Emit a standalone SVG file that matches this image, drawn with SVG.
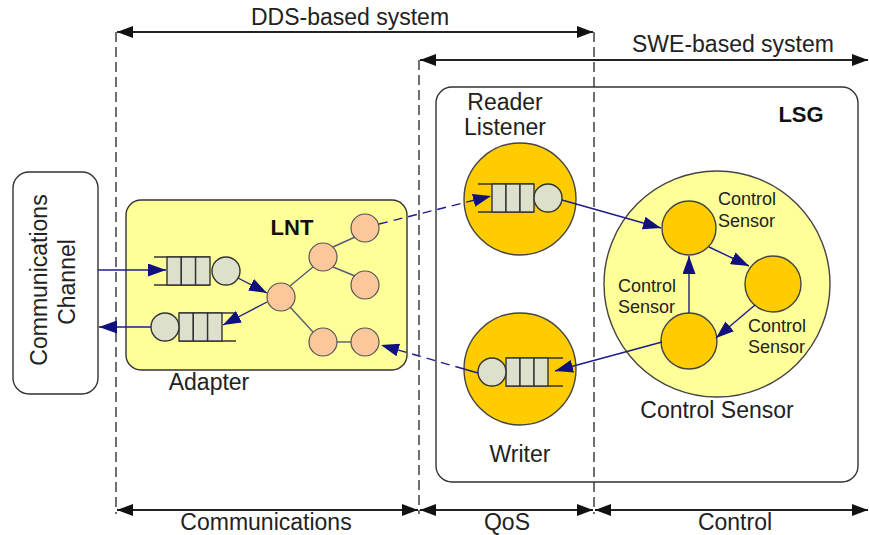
<svg xmlns="http://www.w3.org/2000/svg" width="869" height="535" viewBox="0 0 869 535">
<defs>
<style>
.t{font-family:"Liberation Sans",Arial,sans-serif;font-size:23px;fill:#222}
.s{font-family:"Liberation Sans",Arial,sans-serif;font-size:18px;fill:#222}
.b{font-family:"Liberation Sans",Arial,sans-serif;font-size:22px;font-weight:bold;fill:#111}
.dash{stroke:#333;stroke-width:1.4;stroke-dasharray:10 5;fill:none}
.dim{stroke:#222;stroke-width:1.8;fill:none}
.conn{stroke:#1c1c8c;stroke-width:1.4;fill:none}
.cd{stroke:#1c1c8c;stroke-width:1.4;fill:none;stroke-dasharray:9 6}
.ln{stroke:#555a77;stroke-width:1.4;fill:none}
.q{fill:#dde0cb;stroke:#333;stroke-width:1.4}
.rail{stroke:#333;stroke-width:1.6}
.node{fill:#fcc89b;stroke:#555;stroke-width:1.2}
.gold{fill:#ffcc00;stroke:#444;stroke-width:1.4}
.box{fill:#fff;stroke:#333;stroke-width:1.4}
</style>
<marker id="ab" viewBox="0 0 16 12" refX="16" refY="6" markerWidth="16" markerHeight="12" markerUnits="userSpaceOnUse" orient="auto-start-reverse"><path d="M0,0 L16,6 L0,12 z" fill="#111"/></marker>
<marker id="an" viewBox="0 0 18 13" refX="18" refY="6.5" markerWidth="18" markerHeight="13" markerUnits="userSpaceOnUse" orient="auto"><path d="M0,0 L18,6.5 L0,13 z" fill="#10107f"/></marker>
</defs>

<g id="dimensions">
<line class="dash" x1="116" y1="32" x2="116" y2="514"/>
<line class="dash" x1="419" y1="60" x2="419" y2="514"/>
<line class="dash" x1="594" y1="32" x2="594" y2="514"/>
<line class="dim" x1="117" y1="32" x2="593" y2="32" marker-start="url(#ab)" marker-end="url(#ab)"/>
<line class="dim" x1="420" y1="60" x2="868" y2="60" marker-start="url(#ab)" marker-end="url(#ab)"/>
<line class="dim" x1="117" y1="510" x2="418" y2="510" marker-start="url(#ab)" marker-end="url(#ab)"/>
<line class="dim" x1="420" y1="510" x2="593" y2="510" marker-start="url(#ab)" marker-end="url(#ab)"/>
<line class="dim" x1="595" y1="510" x2="868" y2="510" marker-start="url(#ab)" marker-end="url(#ab)"/>
<text class="t" x="350" y="25" text-anchor="middle">DDS-based system</text>
<text class="t" x="733" y="52" text-anchor="middle">SWE-based system</text>
<text class="t" x="266" y="530" text-anchor="middle">Communications</text>
<text class="t" x="507" y="530" text-anchor="middle">QoS</text>
<text class="t" x="735" y="530" text-anchor="middle">Control</text>
</g>

<g id="channel">
<rect class="box" x="13" y="172" width="85" height="222" rx="16"/>
<text class="t" transform="translate(47,280) rotate(-90)" text-anchor="middle">Communications</text>
<text class="t" transform="translate(75,282) rotate(-90)" text-anchor="middle">Channel</text>
</g>

<g id="lsg">
<rect x="436" y="87" width="422" height="395" rx="16" fill="none" stroke="#333" stroke-width="1.4"/>
<text class="b" x="801" y="122" text-anchor="middle">LSG</text>
</g>

<g id="adapter">
<rect x="126" y="200" width="281" height="170" rx="15" fill="#ffff99" stroke="#333" stroke-width="1.4"/>
<text class="b" x="292" y="235" text-anchor="middle">LNT</text>
<text class="t" x="209" y="390" text-anchor="middle">Adapter</text>
</g>

<g id="adapter-in-queue">
<line class="rail" x1="154" y1="257" x2="210" y2="257"/>
<line class="rail" x1="154" y1="285" x2="210" y2="285"/>
<rect class="q" x="167" y="257" width="14.3" height="28"/>
<rect class="q" x="181.3" y="257" width="14.3" height="28"/>
<rect class="q" x="195.6" y="257" width="14.4" height="28"/>
<circle class="q" cx="226" cy="271" r="14"/>
</g>

<g id="adapter-out-queue">
<line class="rail" x1="179" y1="313" x2="236" y2="313"/>
<line class="rail" x1="179" y1="341" x2="236" y2="341"/>
<rect class="q" x="179" y="313" width="14.3" height="28"/>
<rect class="q" x="193.3" y="313" width="14.3" height="28"/>
<rect class="q" x="207.6" y="313" width="14.4" height="28"/>
<circle class="q" cx="165" cy="327" r="14"/>
</g>

<g id="lnt-nodes">
<circle class="node" cx="281" cy="297" r="14"/>
<circle class="node" cx="323" cy="257" r="14"/>
<circle class="node" cx="365" cy="228" r="14"/>
<circle class="node" cx="365" cy="285" r="14"/>
<circle class="node" cx="323" cy="342" r="14"/>
<circle class="node" cx="365" cy="342" r="14"/>
</g>

<g id="reader">
<circle class="gold" cx="520" cy="199" r="56"/>
<line class="rail" x1="478" y1="184" x2="534" y2="184"/>
<line class="rail" x1="478" y1="212" x2="534" y2="212"/>
<rect class="q" x="492" y="184" width="14" height="28"/>
<rect class="q" x="506" y="184" width="14" height="28"/>
<rect class="q" x="520" y="184" width="14" height="28"/>
<circle class="q" cx="548" cy="198" r="14"/>
<text class="t" x="505" y="110" text-anchor="middle">Reader</text>
<text class="t" x="505" y="135" text-anchor="middle">Listener</text>
</g>

<g id="writer">
<circle class="gold" cx="520" cy="369" r="56"/>
<line class="rail" x1="506" y1="358" x2="563" y2="358"/>
<line class="rail" x1="506" y1="386" x2="563" y2="386"/>
<rect class="q" x="506" y="358" width="14" height="28"/>
<rect class="q" x="520" y="358" width="14" height="28"/>
<rect class="q" x="534" y="358" width="14" height="28"/>
<circle class="q" cx="492" cy="372" r="14"/>
<text class="t" x="520" y="462" text-anchor="middle">Writer</text>
</g>

<g id="control-sensor">
<circle cx="717" cy="284" r="113" fill="#ffff99" stroke="#444" stroke-width="1.4"/>
<text class="t" x="717" y="418" text-anchor="middle">Control Sensor</text>
</g>

<g id="cs-top">
<circle class="gold" cx="689" cy="228" r="27"/>
<text class="s" x="718" y="205">Control</text>
<text class="s" x="718" y="227">Sensor</text>
</g>
<g id="cs-right">
<circle class="gold" cx="773" cy="284" r="28"/>
<text class="s" x="748" y="332">Control</text>
<text class="s" x="748" y="353">Sensor</text>
</g>
<g id="cs-bottom">
<circle class="gold" cx="689" cy="341" r="28"/>
<text class="s" x="618" y="292">Control</text>
<text class="s" x="618" y="313">Sensor</text>
</g>

<g id="connectors">
<line class="conn" x1="98" y1="270" x2="166" y2="270" marker-end="url(#an)"/>
<line class="conn" x1="151" y1="327" x2="99" y2="327" marker-end="url(#an)"/>
<line class="conn" x1="238" y1="278" x2="267" y2="293" marker-end="url(#an)"/>
<line class="conn" x1="267" y1="302" x2="223" y2="325" marker-end="url(#an)"/>
<line class="ln" x1="290" y1="286" x2="313" y2="267"/>
<line class="ln" x1="333" y1="247" x2="355" y2="237"/>
<line class="ln" x1="333" y1="267" x2="355" y2="276"/>
<line class="ln" x1="290" y1="307" x2="313" y2="332"/>
<line class="ln" x1="337" y1="342" x2="351" y2="342"/>
<line class="cd" x1="379" y1="224" x2="491" y2="196" marker-end="url(#an)"/>
<line class="cd" x1="464" y1="369" x2="381" y2="345" marker-end="url(#an)"/>
<line class="conn" x1="478" y1="373" x2="464" y2="369"/>
<line class="conn" x1="562" y1="200" x2="661" y2="228" marker-end="url(#an)"/>
<line class="conn" x1="709" y1="247" x2="749" y2="266" marker-end="url(#an)"/>
<line class="conn" x1="755" y1="305" x2="716" y2="338" marker-end="url(#an)"/>
<line class="conn" x1="689" y1="313" x2="689" y2="256" marker-end="url(#an)"/>
<line class="conn" x1="662" y1="342" x2="555" y2="371" marker-end="url(#an)"/>
</g>
</svg>
